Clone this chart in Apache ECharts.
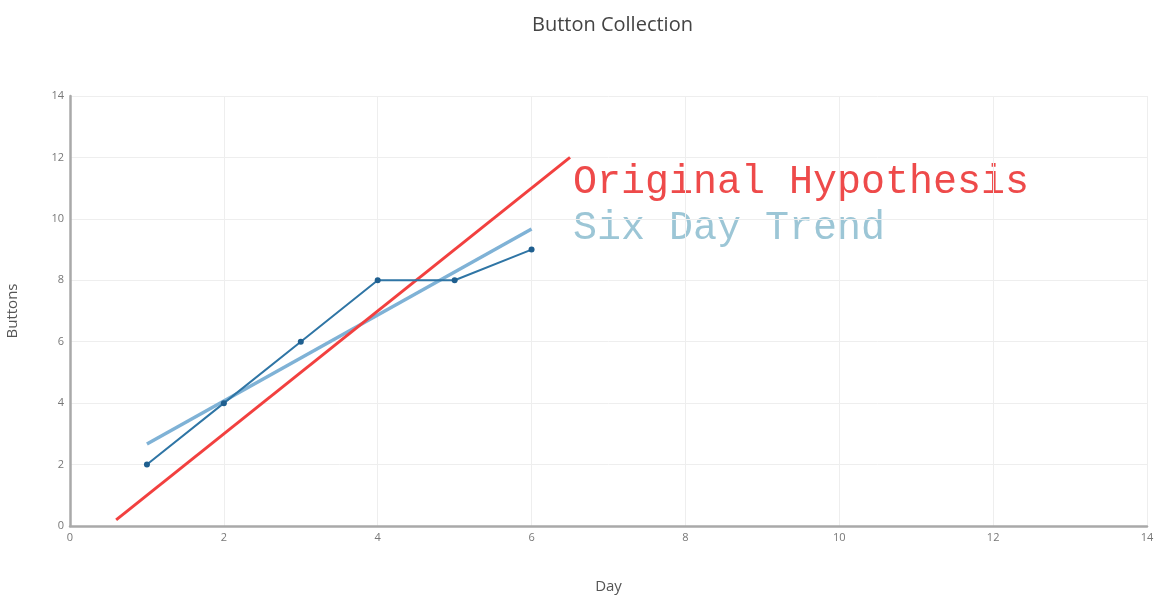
<!DOCTYPE html>
<html>
<head>
<meta charset="utf-8">
<script src="https://cdn.jsdelivr.net/npm/echarts@6/dist/echarts.min.js"></script>
<style>html,body{margin:0;padding:0;background:#fff}#c{width:1161px;height:595px}</style>
</head>
<body>
<div id="c"></div>
<script>
const days = [1, 2, 3, 4, 5, 6];
const buttons = [2, 4, 6, 8, 8, 9];
const trendX = [1, 6];
const trendY = [2.67, 9.67];
const hypothesisX = [0.6, 6.5];
const hypothesisY = [0.2, 12];
const xTicks = [0, 2, 4, 6, 8, 10, 12, 14];
const yTicks = [0, 2, 4, 6, 8, 10, 12, 14];

const zip = (a, b) => a.map((v, i) => [v, b[i]]);
const chart = echarts.init(document.getElementById('c'), null, {renderer: 'canvas'});
const axisCommon = {
  type: 'value', min: xTicks[0], max: xTicks[xTicks.length - 1], interval: 2,
  axisLine: {show: true, lineStyle: {color: '#a9a9a9', width: 2.5}},
  axisTick: {show: false},
  splitLine: {show: true, lineStyle: {color: '#eeeeee', width: 1}},
  axisLabel: {color: '#777', fontSize: 11, fontFamily: 'Open Sans', margin: 6},
  nameTextStyle: {color: '#555', fontSize: 15, fontFamily: 'Open Sans'}
};
chart.setOption({
  animation: false,
  title: {
    text: 'Button Collection', left: 527, top: 10,
    textStyle: {color: '#444', fontSize: 20, fontWeight: 'normal', fontFamily: 'Open Sans'}
  },
  grid: {left: 70, right: 14, top: 96, bottom: 69, containLabel: false, outerBoundsMode: 'none'},
  xAxis: Object.assign({}, axisCommon, {
    name: 'Day', nameLocation: 'middle', nameGap: 53
  }),
  yAxis: Object.assign({}, axisCommon, {
    min: yTicks[0], max: yTicks[yTicks.length - 1],
    name: 'Buttons', nameLocation: 'middle', nameGap: 50
  }),
  series: [
    {
      type: 'line', data: zip(hypothesisX, hypothesisY), symbol: 'none',
      lineStyle: {color: '#f2403f', width: 3}, z: 3
    },
    {
      type: 'line', data: zip(trendX, trendY), symbol: 'none',
      lineStyle: {color: '#7fb2d6', width: 3.5}, z: 2
    },
    {
      type: 'line', data: zip(days, buttons), symbol: 'circle', symbolSize: 6,
      itemStyle: {color: '#1f5f8f'},
      lineStyle: {color: '#2f75a5', width: 2}, z: 4
    }
  ],
  graphic: [
    {type: 'text', left: 573, top: 162, style: {text: 'Original Hypothesis', fill: '#ee4a4a', font: '40px "Liberation Mono"'}},
    {type: 'text', left: 573, top: 208, style: {text: 'Six Day Trend', fill: '#9cc6d6', font: '40px "Liberation Mono"'}}
  ]
});
</script>
</body>
</html>
